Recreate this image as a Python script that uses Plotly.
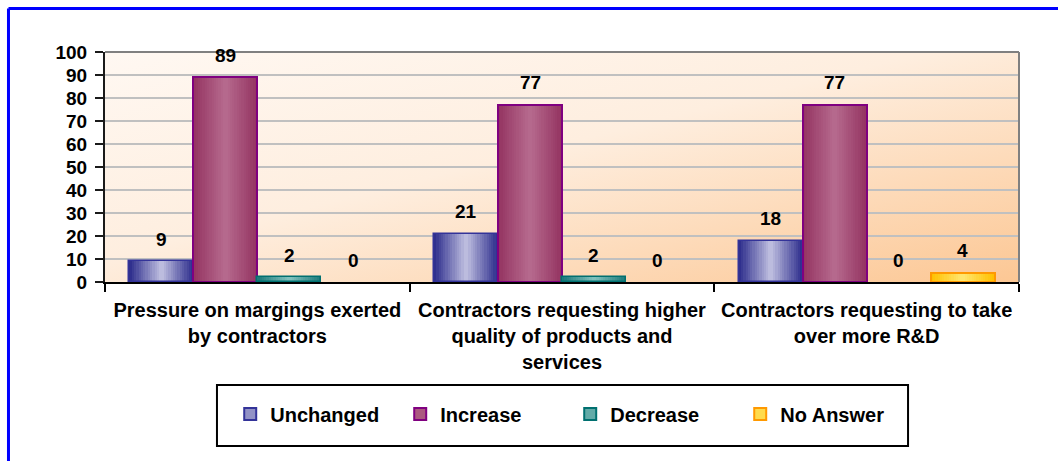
import base64
import plotly.graph_objects as go

# data
categories = [
    "Pressure on margings exerted<br>by contractors",
    "Contractors requesting higher<br>quality of products and<br>services",
    "Contractors requesting to take<br>over more R&D",
]
series_names = ["Unchanged", "Increase", "Decrease", "No Answer"]
unchanged = [9, 21, 18]
increase = [89, 77, 77]
decrease = [2, 2, 0]
no_answer = [0, 0, 4]
y_ticks = list(range(0, 101, 10))

values = [unchanged, increase, decrease, no_answer]

# styling: edge colour, centre colour, border colour, border width
edge_cols = ["#30308E", "#953562", "#1E7B7B", "#FFC000"]
mid_cols = ["#BCBCDE", "#B5698D", "#7FC0BC", "#FFE66E"]
line_cols = ["#333399", "#800080", "#007070", "#FF9900"]
line_w = [1.5, 2, 1.5, 2]

FONT = "Arial, Liberation Sans, sans-serif"
BAR_W = 0.21
GROUP_START = -0.42
N_LAYERS = 14


def mix(c1, c2, t):
    a = [int(c1[i:i + 2], 16) for i in (1, 3, 5)]
    b = [int(c2[i:i + 2], 16) for i in (1, 3, 5)]
    return "#%02x%02x%02x" % tuple(round(a[j] + (b[j] - a[j]) * t) for j in range(3))


fig = go.Figure()

for s, name in enumerate(series_names):
    centre = GROUP_START + BAR_W * s + BAR_W / 2
    widths = [line_w[s] if v > 0 else 0 for v in values[s]]
    # gradient: stacked bars of shrinking width from dark edge to light centre
    for k in range(N_LAYERS):
        w = BAR_W * (1 - k / N_LAYERS)
        t = k / (N_LAYERS - 1)
        fig.add_trace(go.Bar(
            x=categories, y=values[s],
            width=w, offset=centre - w / 2,
            marker=dict(color=mix(edge_cols[s], mid_cols[s], t), line=dict(width=0)),
            name=name, showlegend=False, legendgroup=name,
            hoverinfo="skip",
        ))
    # outline on top
    fig.add_trace(go.Bar(
        x=categories, y=values[s],
        width=BAR_W, offset=centre - BAR_W / 2,
        marker=dict(color="rgba(0,0,0,0)", line=dict(width=widths, color=line_cols[s])),
        name=name, showlegend=False, legendgroup=name,
    ))
    # legend entry
    fig.add_trace(go.Bar(
        x=[None], y=[None], name=name, legendgroup=name,
        marker=dict(color=mix(edge_cols[s], mid_cols[s], 0.7),
                    line=dict(width=2, color=line_cols[s])),
    ))
    # value labels
    for i, v in enumerate(values[s]):
        fig.add_annotation(x=i + centre, y=v, text=str(v), showarrow=False,
                           yanchor="middle", yshift=22,
                           font=dict(family=FONT, size=19, color="#000000", weight="bold"))

# plot background gradient
svg = ('<svg xmlns="http://www.w3.org/2000/svg" width="200" height="100" viewBox="0 0 200 100" '
       'preserveAspectRatio="none"><defs><linearGradient id="g" x1="0" y1="0" x2="1" y2="1">'
       '<stop offset="0" stop-color="#FFF8F2"/><stop offset="0.45" stop-color="#FEEEDF"/>'
       '<stop offset="1" stop-color="#FCC794"/></linearGradient></defs>'
       '<rect width="200" height="100" fill="url(#g)"/></svg>')
bg_src = "data:image/svg+xml;base64," + base64.b64encode(svg.encode()).decode()

fig.update_layout(
    width=1058, height=461,
    margin=dict(l=105, r=39, t=52, b=179),
    paper_bgcolor="white",
    plot_bgcolor="rgba(0,0,0,0)",
    barmode="overlay",
    font=dict(family=FONT, size=19, color="#000000", weight="bold"),
    images=[dict(source=bg_src, xref="paper", yref="paper", x=0, y=1, sizex=1, sizey=1,
                 sizing="stretch", layer="below", xanchor="left", yanchor="top")],
    xaxis=dict(
        range=[-0.5, 2.5], showgrid=False, showline=True, linecolor="#000000", linewidth=2,
        ticks="outside", tickson="boundaries", ticklen=8, tickwidth=2, tickcolor="#000000",
        ticklabelstandoff=9,
        tickfont=dict(family=FONT, size=20, color="#000000", weight="bold"),
    ),
    yaxis=dict(
        range=[0, 100], tickvals=y_ticks, showgrid=True, gridcolor="#C0C0C0", gridwidth=1.5,
        showline=True, linecolor="#1A1A1A", linewidth=2, zeroline=False,
        ticks="outside", ticklen=8, tickwidth=1.5, tickcolor="#1A1A1A",
        ticklabelstandoff=4,
        tickfont=dict(family=FONT, size=19, color="#000000", weight="bold"),
    ),
    legend=dict(
        orientation="h", x=0.137, xanchor="left", y=-0.574, yanchor="middle",
        bgcolor="rgba(0,0,0,0)", borderwidth=0, entrywidth=125, entrywidthmode="pixels",
        font=dict(family=FONT, size=20, color="#000000", weight="bold"),
    ),
    bargap=0, bargroupgap=0,
    shapes=[
        # plot area top / right border
        dict(type="line", xref="paper", yref="paper", x0=0, x1=1, y0=1, y1=1,
             line=dict(color="#808080", width=2)),
        dict(type="line", xref="paper", yref="paper", x0=1, x1=1, y0=0, y1=1,
             line=dict(color="#808080", width=2)),
        # legend frame
        dict(type="rect", xref="paper", yref="paper", x0=0.1225, x1=0.8786, y0=-0.713, y1=-0.448,
             line=dict(color="#000000", width=2), fillcolor="rgba(0,0,0,0)"),
        # blue outer frame (top and left)
        dict(type="line", xref="paper", yref="paper", x0=-0.1056, x1=1.1, y0=1.189, y1=1.189,
             line=dict(color="#0000FF", width=3)),
        dict(type="line", xref="paper", yref="paper", x0=-0.1056, x1=-0.1056, y0=-0.9, y1=1.189,
             line=dict(color="#0000FF", width=3)),
    ],
)

fig.write_html("out.html", config={"displayModeBar": False},
               post_script="document.body.style.margin='0';")
